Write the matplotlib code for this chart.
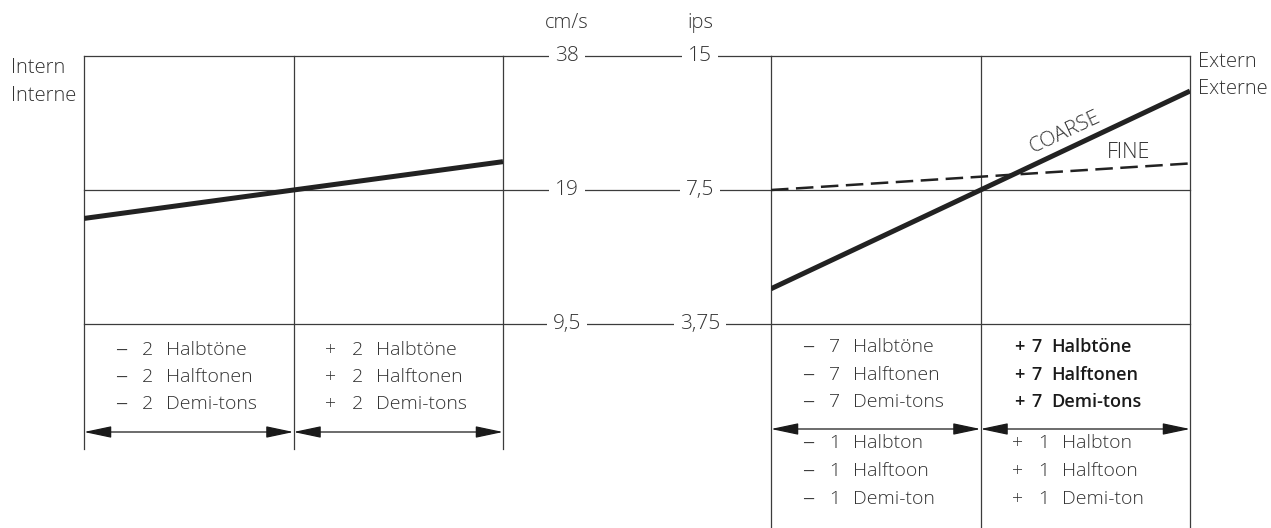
import numpy as np
import matplotlib
matplotlib.use('Agg')
import matplotlib.pyplot as plt
from matplotlib.patches import FancyArrowPatch

plt.rcParams['font.family'] = ['Open Sans', 'DejaVu Sans']

# speed scale (cm/s and ips)
speeds_cms = [38, 19, 9.5]
speeds_ips = ['15', '7,5', '3,75']
speeds_cms_lbl = ['38', '19', '9,5']

# internal pitch control: -2 .. +2 semitones
intern_x = [-1, 0, 1]
intern_speed = [16.4, 19, 22.0]

# external pitch control
coarse_x = [-1, 0, 1]
coarse_speed = [11.4, 19, 31.7]
fine_x = [-1, 1]
fine_speed = [19, 21.8]

left_labels = [
    [('–', '2', 'Halbtöne'), ('–', '2', 'Halftonen'), ('–', '2', 'Demi-tons')],
    [('+', '2', 'Halbtöne'), ('+', '2', 'Halftonen'), ('+', '2', 'Demi-tons')],
]
right_upper = [
    [('–', '7', 'Halbtöne'), ('–', '7', 'Halftonen'), ('–', '7', 'Demi-tons')],
    [('+', '7', 'Halbtöne'), ('+', '7', 'Halftonen'), ('+', '7', 'Demi-tons')],
]
right_lower = [
    [('–', '1', 'Halbton'), ('–', '1', 'Halftoon'), ('–', '1', 'Demi-ton')],
    [('+', '1', 'Halbton'), ('+', '1', 'Halftoon'), ('+', '1', 'Demi-ton')],
]

W, H = 1271, 528
LC = '#3c3c3c'
TC = '#333333'
FW = 'light'

fig = plt.figure(figsize=(W / 100, H / 100), dpi=100)


def px_axes(x0, x1, y0=56, y1=324):
    return fig.add_axes([x0 / W, 1 - y1 / H, (x1 - x0) / W, (y1 - y0) / H])


def yfrac(py):
    # pixel row -> axes fraction (9.5 line at 324, 38 line at 56)
    return (324 - py) / 268.0


def panel(ax, vbottom):
    ax.set_yscale('log', base=2)
    ax.set_ylim(9.5, 38)
    ax.set_xlim(-1, 1)
    ax.axis('off')
    for s in speeds_cms:
        ax.axhline(s, color=LC, lw=0.9, clip_on=False)
    for xv in [-1, 0, 1]:
        ax.plot([xv, xv], [1, yfrac(vbottom)], color=LC, lw=0.9,
                transform=ax.get_xaxis_transform(), clip_on=False)


def cell_text(ax, col, rows, ys, bold=False):
    # offsets in pixels from the column's left edge
    offs = (34, 51, 71) if bold else (31, 58, 82)
    for (sign, num, word), py in zip(rows, ys):
        for off, s in zip(offs, (sign, num, word)):
            size = 13 if bold else 14
            dy = 0
            if s == '–':
                size, dy = 17.5, 1
            ax.text(col + off / 209.5, yfrac(py + dy), s, transform=ax.get_xaxis_transform(),
                    ha='left', va='center', fontsize=size,
                    color='#1a1a1a' if bold else TC,
                    fontweight='semibold' if bold else FW, clip_on=False)


def arrows(ax, py):
    for a, b in [(-1, 0), (0, 1)]:
        p = FancyArrowPatch((a, yfrac(py)), (b, yfrac(py)),
                            transform=ax.get_xaxis_transform(),
                            arrowstyle='<|-|>,head_length=1.7,head_width=0.36',
                            mutation_scale=10, shrinkA=0, shrinkB=0,
                            color='#1a1a1a', lw=0.9, clip_on=False)
        ax.add_patch(p)


def side_text(ax, x, py, s):
    ax.text(x, yfrac(py), s, transform=ax.get_xaxis_transform(), ha='left', va='center',
            fontsize=14.5, color=TC, fontweight=FW, clip_on=False)


# left panel (intern)
ax1 = px_axes(84, 503)
panel(ax1, 449)
ax1.plot(intern_x, intern_speed, color='#222', lw=3.6, solid_capstyle='butt')
cell_text(ax1, -1, left_labels[0], [350, 377, 404])
cell_text(ax1, 0, left_labels[1], [350, 377, 404])
arrows(ax1, 432)
side_text(ax1, -1 - 73 / 209.5, 68, 'Intern')
side_text(ax1, -1 - 73 / 209.5, 96, 'Interne')

# middle speed scale
axm = px_axes(503, 771)
axm.set_yscale('log', base=2)
axm.set_ylim(9.5, 38)
axm.set_xlim(0, 1)
axm.axis('off')
for s, lc, li in zip(speeds_cms, speeds_cms_lbl, speeds_ips):
    axm.axhline(s, color=LC, lw=0.9, clip_on=False)
    axm.text(0.239, s, lc, ha='center', va='center', fontsize=15, color=TC,
             fontweight=FW, bbox=dict(fc='white', ec='none', pad=4), clip_on=False)
    axm.text(0.735, s, li, ha='center', va='center', fontsize=15, color=TC,
             fontweight=FW, bbox=dict(fc='white', ec='none', pad=4), clip_on=False)
axm.text(0.239, yfrac(23), 'cm/s', transform=axm.transAxes, ha='center', va='center',
         fontsize=14.5, color=TC, fontweight=FW)
axm.text(0.735, yfrac(23), 'ips', transform=axm.transAxes, ha='center', va='center',
         fontsize=14.5, color=TC, fontweight=FW)

# right panel (extern)
ax2 = px_axes(771, 1190)
panel(ax2, 528)
ax2.plot(fine_x, fine_speed, color='#222', lw=1.8, dashes=(7, 3))
ax2.plot(coarse_x, coarse_speed, color='#222', lw=3.6, solid_capstyle='butt')
cell_text(ax2, -1, right_upper[0], [347, 375, 402])
cell_text(ax2, 0, right_upper[1], [347, 375, 402], bold=True)
cell_text(ax2, -1, right_lower[0], [443, 471, 499])
cell_text(ax2, 0, right_lower[1], [443, 471, 499])
arrows(ax2, 429)
ax2.text(0.403, yfrac(132), 'COARSE', transform=ax2.get_xaxis_transform(), rotation=25,
         ha='center', va='center', fontsize=15, color=TC, fontweight=FW,
         rotation_mode='anchor')
ax2.text(0.705, yfrac(153), 'FINE', transform=ax2.get_xaxis_transform(),
         ha='center', va='center', fontsize=15.5, color=TC, fontweight=FW)
side_text(ax2, 1 + 8 / 209.5, 62, 'Extern')
side_text(ax2, 1 + 8 / 209.5, 89, 'Externe')

fig.savefig('out.png', dpi=100)
